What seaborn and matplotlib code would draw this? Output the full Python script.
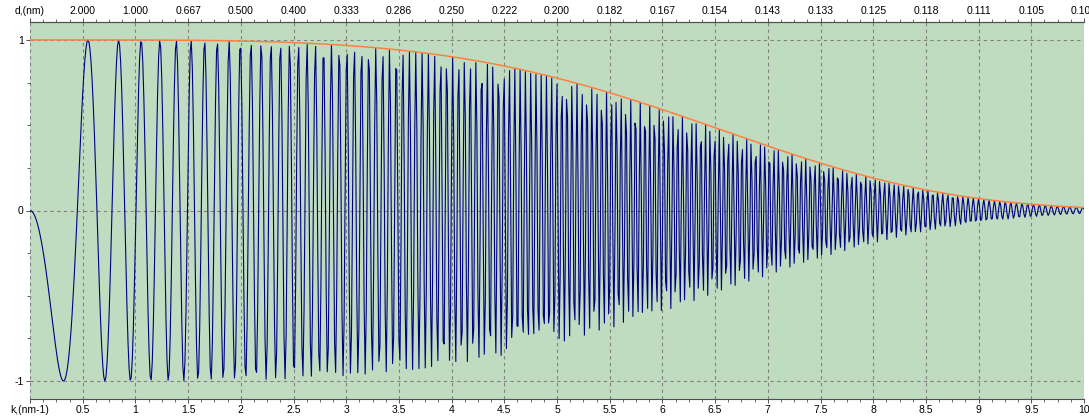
import numpy as np
import matplotlib
matplotlib.use("Agg")
import matplotlib.pyplot as plt
from matplotlib.ticker import MultipleLocator
import seaborn as sns
import pandas as pd

# CTF model: -E(k) * sin(chi(k)), k in nm-1
defocus_term = 15.6      # coefficient of k^2 in chi
cs_term = 0.053          # coefficient of k^4 in chi
envelope_term = 4.05e-4  # E(k) = exp(-c k^4)
k_max = 10.0
n_samples = 1001

k_ticks = [0, 0.5, 1, 1.5, 2, 2.5, 3, 3.5, 4, 4.5, 5, 5.5, 6, 6.5, 7, 7.5, 8, 8.5, 9, 9.5, 10]
k_labels = ["k,(nm-1)", "0.5", "1", "1.5", "2", "2.5", "3", "3.5", "4", "4.5", "5",
            "5.5", "6", "6.5", "7", "7.5", "8", "8.5", "9", "9.5", "10"]
d_labels = ["d,(nm)", "2.000", "1.000", "0.667", "0.500", "0.400", "0.333", "0.286",
            "0.250", "0.222", "0.200", "0.182", "0.167", "0.154", "0.143", "0.133",
            "0.125", "0.118", "0.111", "0.105", "0.100"]
y_ticks = [-1, 0, 1]
y_labels = ["-1", "0", "1"]

k = np.linspace(0, k_max, n_samples)
env = np.exp(-envelope_term * k**4)
chi = defocus_term * k**2 - cs_term * k**4
df = pd.DataFrame({"k": k, "ctf": -env * np.sin(chi), "env": env})

sns.set_style("ticks")
plt.rcParams["font.family"] = ["Liberation Sans", "DejaVu Sans"]
plt.rcParams["font.size"] = 7.5

fig = plt.figure(figsize=(10.89, 4.18), dpi=100)
ax = fig.add_axes([30/1089, 19/418, 1054/1089, 377/418])
ax.set_facecolor("#C0DCC0")

sns.lineplot(data=df, x="k", y="ctf", ax=ax, color="#000080", lw=0.8, estimator=None, sort=False)
sns.lineplot(data=df, x="k", y="env", ax=ax, color="#FF8040", lw=1.1, estimator=None, sort=False)

ax.set_xlim(0, k_max)
ax.set_ylim(-1.105, 1.105)
ax.set_xlabel("")
ax.set_ylabel("")
ax.set_xticks(k_ticks)
ax.set_xticklabels(k_labels)
ax.set_yticks(y_ticks)
ax.set_yticklabels(y_labels)
ax.xaxis.set_minor_locator(MultipleLocator(0.125))
ax.yaxis.set_minor_locator(MultipleLocator(0.25))
ax.grid(True, which="major", color="#808080", ls=(0, (3, 3)), lw=0.8)
ax.tick_params(which="major", length=3, width=0.7, pad=1.5, colors="#505050", labelcolor="black")
ax.tick_params(which="minor", length=2, width=0.6, colors="#505050")
for side in ["left", "right"]:
    ax.spines[side].set_visible(False)
for side in ["top", "bottom"]:
    ax.spines[side].set_color("#505050")
    ax.spines[side].set_linewidth(0.8)

top = ax.twiny()
top.set_xlim(0, k_max)
top.set_xticks(k_ticks)
top.set_xticklabels(d_labels)
top.xaxis.set_minor_locator(MultipleLocator(0.125))
top.tick_params(which="major", length=3, width=0.7, pad=1.5, colors="#505050", labelcolor="black")
top.tick_params(which="minor", length=2, width=0.6, colors="#505050")
for side in ["left", "right", "bottom"]:
    top.spines[side].set_visible(False)
top.spines["top"].set_color("#505050")
top.spines["top"].set_linewidth(0.8)

fig.savefig("out.png", dpi=100)
